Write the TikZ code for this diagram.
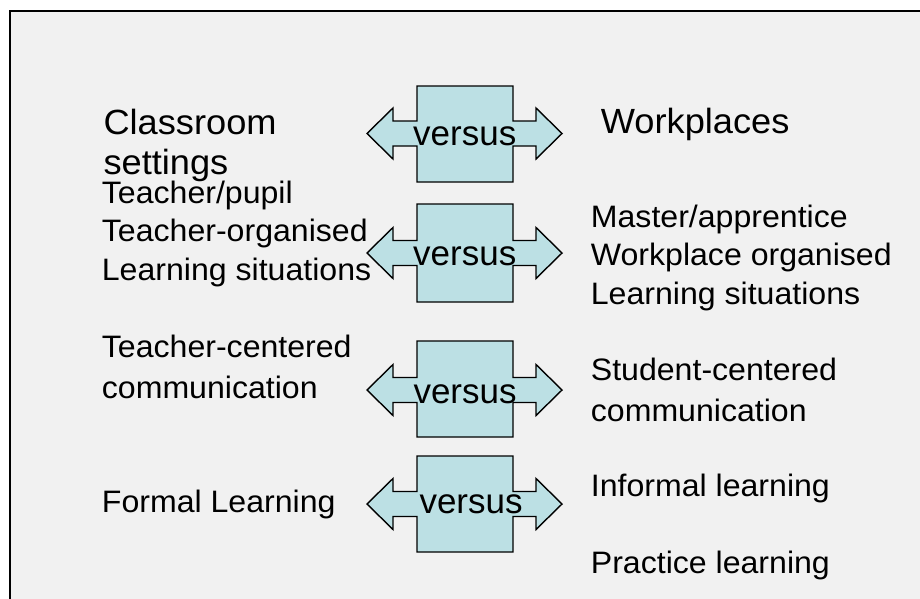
\documentclass[tikz,border=0pt]{standalone}
\usepackage{fontspec}
\setmainfont{Liberation Sans}
\newfontfamily\widesans[FakeStretch=1.035]{Liberation Sans}
\definecolor{framebg}{HTML}{F1F1F1}
\definecolor{vsfill}{HTML}{BCE0E4}
\tikzset{
  hdr/.style={inner sep=0pt, anchor=base west, font=\widesans\fontsize{35}{40}\selectfont},
  body/.style={inner sep=0pt, anchor=base west, font=\widesans\fontsize{31}{38}\selectfont},
  vstext/.style={inner sep=0pt, anchor=base west, font=\fontsize{35}{40}\selectfont},
  vsshape/.style={draw=black, line width=1.4pt, fill=vsfill, line join=miter},
}
% #1 box top, #2 box bottom, #3 arrow centre
\newcommand\vsarrow[3]{%
  \draw[vsshape] (417,#1) -- (513,#1) -- (513,{#3-12.5}) -- (536,{#3-12.5}) -- (536,{#3-25.5})
    -- (562,#3) -- (536,{#3+25.5}) -- (536,{#3+12.5}) -- (513,{#3+12.5}) -- (513,#2)
    -- (417,#2) -- (417,{#3+12.5}) -- (393,{#3+12.5}) -- (393,{#3+25.5}) -- (367,#3)
    -- (393,{#3-25.5}) -- (393,{#3-12.5}) -- (417,{#3-12.5}) -- cycle;}
\begin{document}
\begin{tikzpicture}[x=1pt,y=-1pt]
\useasboundingbox (0,0) rectangle (920,598);
\clip (0,0) rectangle (920,598);
\fill[white] (0,0) rectangle (920,598);
\draw[line width=2pt, fill=framebg] (10,11) rectangle (940,620);

% versus shapes
\vsarrow{86}{182}{133.5}
\vsarrow{204}{302}{253}
\vsarrow{341}{437}{390}
\vsarrow{456}{552}{504}
\node[vstext] (v1) at (413,145.7) {versus};
\node[vstext] (v2) at (413,265.7) {versus};
\node[vstext] (v3) at (413.3,403.3) {versus};
\node[vstext] (v4) at (419.3,513.3) {versus};

% left column
\node[hdr] (l1a) at (103.3,134.3) {Classroom};
\node[hdr] (l1b) at (103.3,174) {settings};
\node[body] (l2a) at (101.7,203.3) {Teacher/pupil};
\node[body] (l2b) at (101.7,241.7) {Teacher-organised};
\node[body] (l2c) at (101.7,280) {Learning situations};
\node[body] (l3a) at (101.7,357.3) {Teacher-centered};
\node[body] (l3b) at (101.7,398.3) {communication};
\node[body] (l4a) at (101.7,512.7) {Formal Learning};

% right column
\node[hdr] (r1a) at (600.7,133.3) {Workplaces};
\node[body] (r2a) at (590.7,227.3) {Master/apprentice};
\node[body] (r2b) at (590.7,265.7) {Workplace organised};
\node[body] (r2c) at (590.7,304) {Learning situations};
\node[body] (r3a) at (590.7,380.7) {Student-centered};
\node[body] (r3b) at (590.7,421) {communication};
\node[body] (r4a) at (590.7,496.7) {Informal learning};
\node[body] (r4b) at (590.7,573.3) {Practice learning};
\end{tikzpicture}
\end{document}
